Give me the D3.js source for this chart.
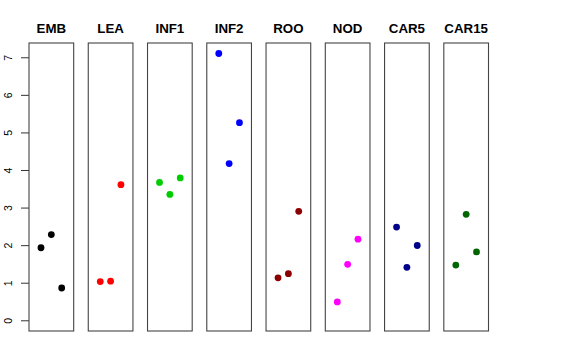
<!DOCTYPE html>
<html><head><meta charset="utf-8">
<script src="https://cdn.jsdelivr.net/npm/d3@7"></script>
<style>body{margin:0;background:#fff}svg{display:block}text{font-family:"Liberation Sans",Arial,Helvetica,sans-serif}</style>
</head><body><div id="chart"></div>
<script>
const categories = ["EMB","LEA","INF1","INF2","ROO","NOD","CAR5","CAR15"];
const colors = ["#000000","#FF0000","#00CD00","#0000FF","#8B0000","#FF00FF","#00008B","#006400"];
const rep1 = [1.93, 1.03, 3.67, 7.10, 1.13, 0.49, 2.48, 1.47];
const rep2 = [2.28, 1.04, 3.35, 4.17, 1.24, 1.49, 1.41, 2.82];
const rep3 = [0.86, 3.61, 3.79, 5.26, 2.90, 2.16, 1.99, 1.82];
const yTicks = [0,1,2,3,4,5,6,7];
const yDomain = [-0.285, 7.38];

const W = 576, H = 360;
const svg = d3.select("#chart").append("svg").attr("width", W).attr("height", H);
const pTop = 43, pBottom = 331;
const band = d3.scaleBand().domain(categories).range([29, 488.5]).paddingInner(0.246).paddingOuter(0);
const y = d3.scaleLinear().domain(yDomain).range([pBottom, pTop]);
const xIn = d3.scaleLinear().domain([-0.16, 4.16]).range([0, band.bandwidth()]);

// y axis
const yAxis = d3.axisLeft(y).tickValues(yTicks).tickSize(8).tickFormat(d3.format("d"));
const ga = svg.append("g").attr("transform", `translate(29,0)`).call(yAxis);
ga.select(".domain").remove();
ga.selectAll(".tick line").attr("stroke", "#333");
ga.selectAll(".tick text").attr("font-size", 10.5).attr("fill", "#000")
  .attr("text-anchor", "middle").attr("x", 0).attr("dy", 0)
  .attr("transform", "translate(-21,0) rotate(-90)").attr("dominant-baseline", "central");

categories.forEach((c, i) => {
  const x0 = band(c);
  const g = svg.append("g").attr("transform", `translate(${x0},0)`);
  g.append("rect").attr("x", 0).attr("y", pTop).attr("width", band.bandwidth()).attr("height", pBottom - pTop)
    .attr("fill", "none").attr("stroke", "#444").attr("stroke-width", 1.1);
  g.append("text").attr("x", band.bandwidth() / 2).attr("y", 33.3).attr("text-anchor", "middle")
    .attr("font-size", 13.3).attr("font-weight", "bold").text(c);
  const vals = [rep1[i], rep2[i], rep3[i]];
  g.selectAll("circle").data(vals).join("circle")
    .attr("cx", (d, j) => xIn(j + 1)).attr("cy", d => y(d)).attr("r", 3.4).attr("fill", colors[i]);
});
</script></body></html>
